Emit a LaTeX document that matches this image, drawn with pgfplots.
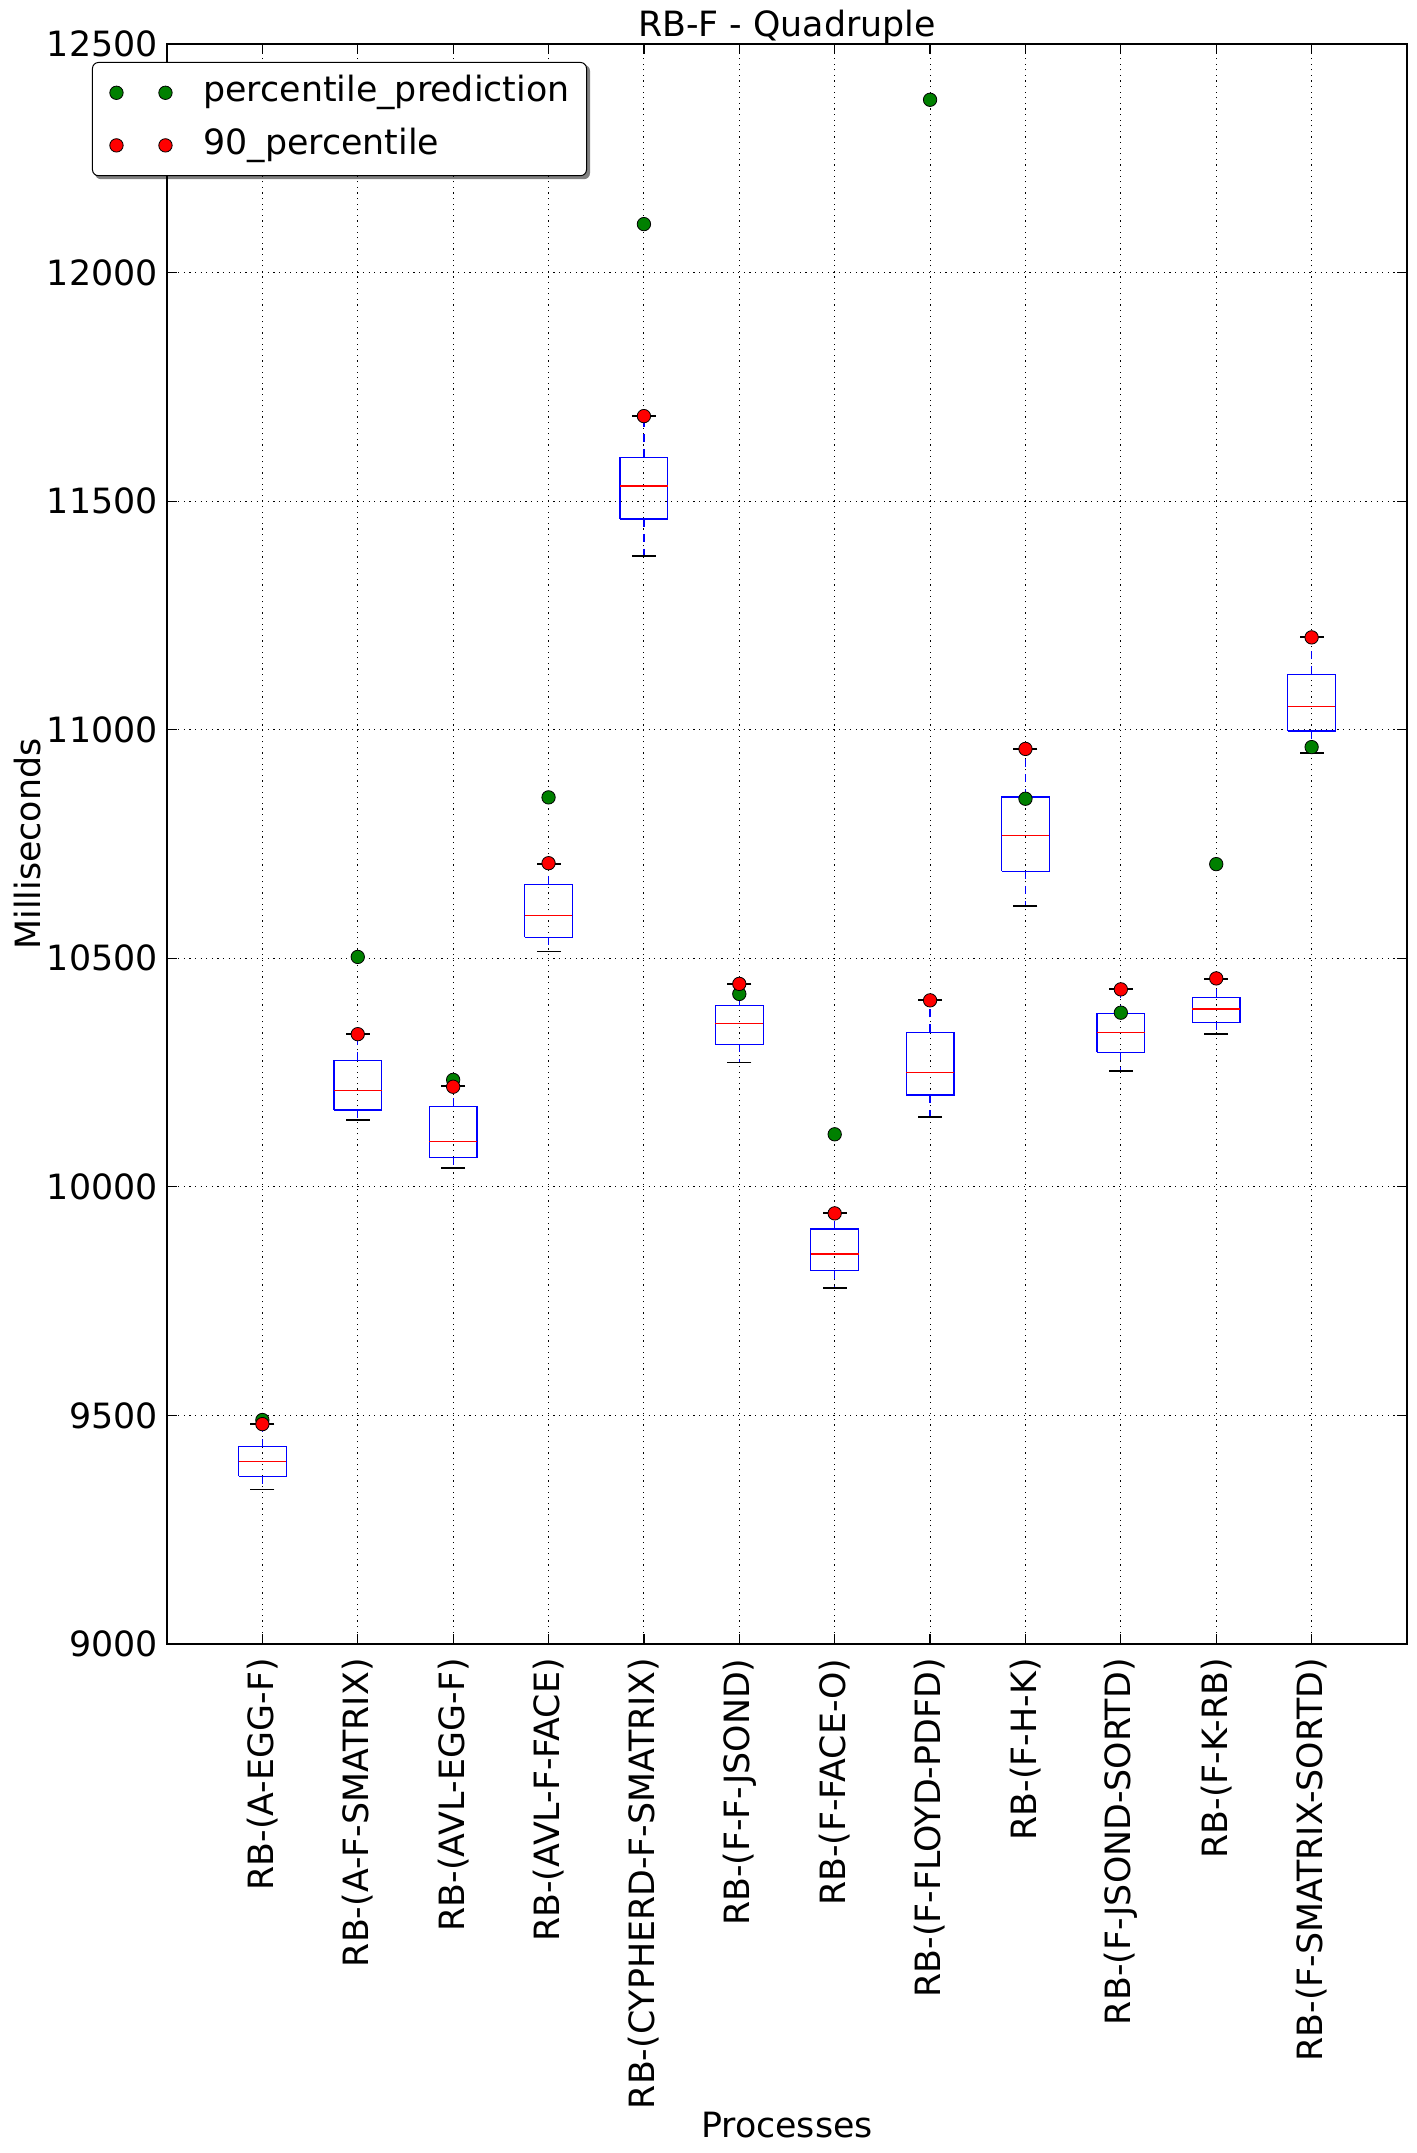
\documentclass[border=0pt]{standalone}
\usepackage{fontspec}
\setmainfont{DejaVu Sans}
\usepackage{pgfplots}
\pgfplotsset{compat=1.18}
\definecolor{mgreen}{rgb}{0,0.5,0}
\pgfdeclarelayer{background}
\pgfsetlayers{background,main}

\pgfplotsset{
  mylegimg/.style={legend image code/.code={%
    \path[draw=none, fill=none] (0pt,-5pt) rectangle (47pt,5pt);
    \draw[##1,/tikz/only marks] plot coordinates {(3.5pt,0pt) (28pt,0pt)};
  }},
  boxsty/.style={forget plot, draw=blue, line width=0.6pt, line join=miter, mark=none},
}

\begin{document}
\fontsize{17.4}{20.9}\selectfont
\begin{tikzpicture}
\begin{axis}[
  at={(0pt,0pt)}, anchor=south west,
  scale only axis,
  width=620pt, height=800pt,
  xmin=0, xmax=13,
  ymin=9000, ymax=12500,
  xtick={1,2,3,4,5,6,7,8,9,10,11,12},
  xticklabels={RB-(A-EGG-F), RB-(A-F-SMATRIX), RB-(AVL-EGG-F), RB-(AVL-F-FACE), RB-(CYPHERD-F-SMATRIX), RB-(F-F-JSOND), RB-(F-FACE-O), RB-(F-FLOYD-PDFD), RB-(F-H-K), RB-(F-JSOND-SORTD), RB-(F-K-RB), RB-(F-SMATRIX-SORTD)},
  ytick={9000,9500,10000,10500,11000,11500,12000,12500},
  scaled y ticks=false,
  /pgf/number format/assume math mode=true,
  /pgf/number format/set thousands separator={},
  yticklabel style={inner sep=0pt, xshift=-4.5pt},
  xticklabel style={yshift=-7pt, rotate=90, anchor=east, inner sep=0pt},
  grid=major,
  grid style={black, line width=0.5pt, dash pattern=on 0.6pt off 2.2pt},
  axis line style={black, line width=1pt},
  tick style={black, line width=0.6pt},
  major tick length=5pt,
  tick align=inside,
  unbounded coords=jump,
  title={RB-F - Quadruple},
  title style={at={(axis description cs:0.5,1)}, anchor=base, yshift=-2.5pt, inner sep=0pt},
  xlabel={Processes},
  xlabel style={at={(axis description cs:0.5,-0.3006)}, anchor=center, inner sep=0pt},
  ylabel={Milliseconds},
  ylabel style={at={(axis description cs:-0.1125,0.5)}, anchor=center, inner sep=0pt},
  legend style={
    name=leg,
    at={(axis description cs:-0.0605,0.98875)}, anchor=north west,
    draw=black, line width=0.5pt, fill=white, rounded corners=3pt,
    inner xsep=8.5pt, inner ysep=6.5pt,
    row sep=9pt, column sep=0pt,
    nodes={inner sep=0pt, text height=13pt, text depth=4.3pt},
  },
  legend cell align=left,
]
% boxes (lower quartile to upper quartile)
\addplot[boxsty] coordinates {(0.75,9367) (1.25,9367) (1.25,9432) (0.75,9432) (0.75,9367)};
\addplot[boxsty] coordinates {(1.75,10168) (2.25,10168) (2.25,10277) (1.75,10277) (1.75,10168)};
\addplot[boxsty] coordinates {(2.75,10065) (3.25,10065) (3.25,10176) (2.75,10176) (2.75,10065)};
\addplot[boxsty] coordinates {(3.75,10546) (4.25,10546) (4.25,10662) (3.75,10662) (3.75,10546)};
\addplot[boxsty] coordinates {(4.75,11461) (5.25,11461) (5.25,11596) (4.75,11596) (4.75,11461)};
\addplot[boxsty] coordinates {(5.75,10312) (6.25,10312) (6.25,10397) (5.75,10397) (5.75,10312)};
\addplot[boxsty] coordinates {(6.75,9817) (7.25,9817) (7.25,9908) (6.75,9908) (6.75,9817)};
\addplot[boxsty] coordinates {(7.75,10201) (8.25,10201) (8.25,10338) (7.75,10338) (7.75,10201)};
\addplot[boxsty] coordinates {(8.75,10690) (9.25,10690) (9.25,10853) (8.75,10853) (8.75,10690)};
\addplot[boxsty] coordinates {(9.75,10294) (10.25,10294) (10.25,10380) (9.75,10380) (9.75,10294)};
\addplot[boxsty] coordinates {(10.75,10360) (11.25,10360) (11.25,10415) (10.75,10415) (10.75,10360)};
\addplot[boxsty] coordinates {(11.75,10997) (12.25,10997) (12.25,11121) (11.75,11121) (11.75,10997)};
% medians
\addplot[forget plot, red, line width=0.6pt, mark=none] coordinates {
  (0.75,9400) (1.25,9400) (1,nan)
  (1.75,10210) (2.25,10210) (2,nan)
  (2.75,10100) (3.25,10100) (3,nan)
  (3.75,10594) (4.25,10594) (4,nan)
  (4.75,11533) (5.25,11533) (5,nan)
  (5.75,10358) (6.25,10358) (6,nan)
  (6.75,9853) (7.25,9853) (7,nan)
  (7.75,10251) (8.25,10251) (8,nan)
  (8.75,10769) (9.25,10769) (9,nan)
  (9.75,10338) (10.25,10338) (10,nan)
  (10.75,10389) (11.25,10389) (11,nan)
  (11.75,11051) (12.25,11051)};
% whiskers
\addplot[forget plot, blue, line width=0.6pt, mark=none, dash pattern=on 4pt off 3.5pt] coordinates {
  (1,9367) (1,9338) (1,nan) (1,9432) (1,9481) (1,nan)
  (2,10168) (2,10146) (2,nan) (2,10277) (2,10334) (2,nan)
  (3,10065) (3,10041) (3,nan) (3,10176) (3,10220) (3,nan)
  (4,10546) (4,10515) (4,nan) (4,10662) (4,10707) (4,nan)
  (5,11461) (5,11380) (5,nan) (5,11596) (5,11686) (5,nan)
  (6,10312) (6,10272) (6,nan) (6,10397) (6,10443) (6,nan)
  (7,9817) (7,9778) (7,nan) (7,9908) (7,9942) (7,nan)
  (8,10201) (8,10152) (8,nan) (8,10338) (8,10408) (8,nan)
  (9,10690) (9,10614) (9,nan) (9,10853) (9,10958) (9,nan)
  (10,10294) (10,10253) (10,nan) (10,10380) (10,10432) (10,nan)
  (11,10360) (11,10334) (11,nan) (11,10415) (11,10455) (11,nan)
  (12,10997) (12,10949) (12,nan) (12,11121) (12,11202)};
% whisker caps
\addplot[forget plot, only marks, mark=-, mark size=6pt, mark options={black, line width=0.9pt}]
  coordinates {(1,9338) (1,9481) (2,10146) (2,10334) (3,10041) (3,10220) (4,10515) (4,10707) (5,11380) (5,11686) (6,10272) (6,10443) (7,9778) (7,9942) (8,10152) (8,10408) (9,10614) (9,10958) (10,10253) (10,10432) (11,10334) (11,10455) (12,10949) (12,11202)};

\addplot[only marks, mark=*, mark size=3.35pt, mark options={fill=mgreen, draw=black, line width=0.4pt}, mylegimg]
  coordinates {(1,9490) (2,10503) (3,10234) (4,10852) (5,12106) (6,10422) (7,10115) (8,12378) (9,10849) (10,10381) (11,10706) (12,10962)};
\addlegendentry{percentile\_prediction}
\addplot[only marks, mark=*, mark size=3.35pt, mark options={fill=red, draw=black, line width=0.4pt}, mylegimg]
  coordinates {(1,9481) (2,10334) (3,10219) (4,10708) (5,11686) (6,10444) (7,9942) (8,10408) (9,10958) (10,10432) (11,10456) (12,11202)};
\addlegendentry{90\_percentile}
\end{axis}
\begin{pgfonlayer}{background}
\fill[black!50, rounded corners=3pt] ([xshift=1.5pt,yshift=-1.5pt]leg.south west) rectangle ([xshift=1.5pt,yshift=-1.5pt]leg.north east);
\end{pgfonlayer}
\pgfresetboundingbox
\path[use as bounding box] (-83.5pt,-254.5pt) rectangle (625pt,822pt);
\end{tikzpicture}
\end{document}
